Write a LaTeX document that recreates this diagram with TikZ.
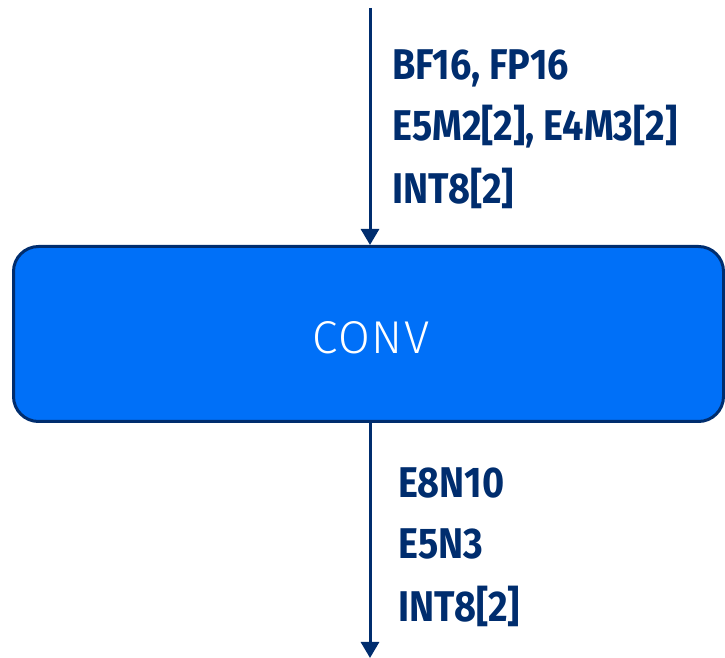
\documentclass[tikz,border=0pt]{standalone}
\usepackage{fontspec}
\setmainfont{Fira Sans}
\newfontfamily\labelfont[FakeStretch=0.88]{Fira Sans Bold}
\newfontfamily\convfont[LetterSpace=4]{Fira Sans Light}
\usetikzlibrary{arrows.meta}
\definecolor{navy}{RGB}{0,45,110}
\definecolor{convblue}{RGB}{0,112,248}
\tikzset{
  x=1pt, y=1pt,
  flow/.style={draw=navy, line width=3pt, -{Triangle[width=18pt,length=16pt]}},
  opbox/.style={draw=navy, line width=3pt, fill=convblue, rounded corners=25pt,
    minimum width=710pt, minimum height=175pt, inner sep=0pt},
  fmt/.style={anchor=base west, inner sep=0pt, text=navy,
    font=\labelfont\fontsize{43}{48}\selectfont}
}
\begin{document}
\begin{tikzpicture}
\useasboundingbox (0,0) rectangle (725,658);
% operator block
\node[opbox] (conv) at (368.5,324) {};
\node[text=white, font=\convfont\fontsize{46}{50}\selectfont, inner sep=0pt] (convlabel) at (371,320) {CONV};
% input and output connectors
\coordinate (tin) at (370,650);
\coordinate (tout) at (370,0);
\draw[flow] (tin) -- (tin |- conv.north);
\draw[flow] (conv.south -| tout) -- (tout);
% input formats
\node[fmt] (in1) at (392,578) {BF16, FP16};
\node[fmt] (in2) at (392,517) {E5M2[2], E4M3[2]};
\node[fmt] (in3) at (392,454) {INT8[2]};
% output formats
\node[fmt] (out1) at (398,160) {E8N10};
\node[fmt] (out2) at (398,99) {E5N3};
\node[fmt] (out3) at (398,36) {INT8[2]};
\end{tikzpicture}
\end{document}
